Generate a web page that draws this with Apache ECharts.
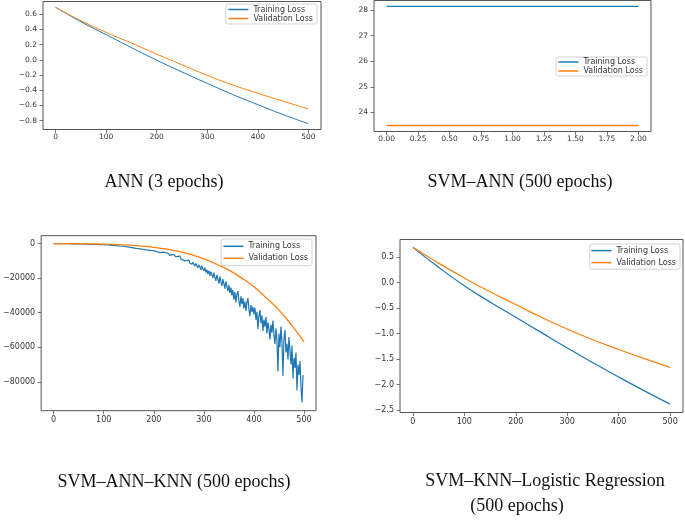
<!DOCTYPE html>
<html>
<head>
<meta charset="utf-8">
<script src="https://cdn.jsdelivr.net/npm/echarts@6/dist/echarts.min.js"></script>
<style>
html,body{margin:0;padding:0;background:#fff;}
#c{width:685px;height:524px;}
</style>
</head>
<body>
<div id="c"></div>
<script>
// ---------- Panel 1: ANN ----------
const annEpochs = [0, 50, 100, 150, 200, 250, 300, 350, 400, 450, 500];
const annTrain = [0.69, 0.50, 0.33, 0.16, -0.005, -0.16, -0.31, -0.455, -0.59, -0.72, -0.84];
const annVal = [0.69, 0.515, 0.36, 0.22, 0.075, -0.065, -0.205, -0.33, -0.44, -0.545, -0.645];
const annXTicks = [0, 100, 200, 300, 400, 500];
const annYTicks = [-0.8, -0.6, -0.4, -0.2, 0.0, 0.2, 0.4, 0.6];

// ---------- Panel 2: SVM-ANN ----------
const svmAnnEpochs = [0, 1, 2];
const svmAnnTrain = [28.14, 28.14, 28.14];
const svmAnnVal = [23.49, 23.49, 23.49];
const svmAnnXTicks = [0, 0.25, 0.5, 0.75, 1.0, 1.25, 1.5, 1.75, 2.0];
const svmAnnYTicks = [24, 25, 26, 27, 28];

// ---------- Panel 3: SVM-ANN-KNN ----------
const sakTrainStep = 2; // one value every 2 epochs, starting at epoch 0
const sakTrain = [
  0,0,0,-10,-10,-10,-20,-20,-20,-30,-30,-40,-40,-50,-50,-60,-60,-70,-80,-80,-90,
  -100,-110,-120,-130,-140,-150,-160,-170,-190,-200,-220,-230,-250,-270,-290,-300,-320,-340,-360,-390,-410,-430,-460,-480,-510,-540,-560,-590,-620,
  -650,-680,-720,-750,-790,-830,-870,-900,-950,-990,-1030,-1100,-1120,-1200,-1230,-1300,-1380,-1350,-1500,-1550,-1520,-1700,-1750,-1680,-1900,
  -2000,-2100,-1900,-2300,-2200,-2500,-2350,-2700,-2400,-2800,-2600,-3000,-2750,-3200,-2900,-3300,-3100,-3600,-3200,-3700,-3400,-3900,-3500,-4100,-3800,
  -4000,-3600,-4500,-4100,-4800,-4300,-5200,-4600,-5000,-5600,-4900,-5800,-5300,-6200,-5500,-6000,-6800,-5900,-6500,-7200,-6300,-7000,-7600,-6700,-7400,
  -8000,-7200,-8800,-7800,-9400,-8500,-10000,-8900,-9800,-10800,-9500,-11200,-10400,-12000,-10800,-11600,-13000,-11500,-12400,-14000,-12200,-13500,-15200,-12800,-14500,
  -15800,-13900,-16800,-15000,-17500,-15600,-18600,-16200,-17800,-20000,-16800,-19400,-21500,-18000,-20600,-23200,-19000,-22000,-24500,-20500,-23000,-26000,-21800,-24800,-27500,
  -24000,-28500,-25500,-30000,-26800,-32500,-28000,-34000,-29500,-27500,-33000,-36500,-30500,-35000,-31500,-37500,-33500,-39000,-34000,-31500,-38000,-42000,-35500,-39500,-36500,
  -41000,-37000,-44000,-39500,-49500,-42000,-38500,-46000,-41500,-50500,-44000,-48000,-42500,-52000,-45500,-49000,-55500,-47000,-51500,-44500,-53000,-58000,-49000,-56000,-74000,
  -52000,-60000,-48000,-57000,-76500,-55000,-50000,-63000,-58000,-67000,-54000,-62000,-70000,-59000,-78000,-66000,-72000,-63000,-85000,-70000,-76000,-68000,-83000,-92000,-76000
];
const sakValEpochs = [0,25,50,75,100,125,150,175,200,225,250,275,300,325,350,375,400,425,450,475,500];
const sakVal = [0,-20,-60,-140,-300,-550,-900,-1380,-2100,-3100,-4500,-6400,-8800,-11800,-15300,-19800,-25000,-31400,-38500,-47000,-56750];
const sakXTicks = [0, 100, 200, 300, 400, 500];
const sakYTicks = [-80000, -60000, -40000, -20000, 0];

// ---------- Panel 4: SVM-KNN-Logistic Regression ----------
const sklEpochs = [0, 50, 100, 150, 200, 250, 300, 350, 400, 450, 500];
const sklTrain = [0.69, 0.30, -0.06, -0.38, -0.68, -0.98, -1.28, -1.57, -1.85, -2.12, -2.38];
const sklVal = [0.69, 0.38, 0.09, -0.18, -0.43, -0.68, -0.91, -1.12, -1.31, -1.49, -1.66];
const sklXTicks = [0, 100, 200, 300, 400, 500];
const sklYTicks = [-2.5, -2.0, -1.5, -1.0, -0.5, 0.0, 0.5];

const captions = [
  {text: 'ANN (3 epochs)', x: 164, y: 182},
  {text: 'SVM\u2013ANN (500 epochs)', x: 520, y: 182},
  {text: 'SVM\u2013ANN\u2013KNN (500 epochs)', x: 174, y: 482},
  {text: 'SVM\u2013KNN\u2013Logistic Regression', x: 545, y: 481},
  {text: '(500 epochs)', x: 517, y: 506}
];

const BLUE = '#1f77b4', ORANGE = '#ff7f0e';
const SPINE = '#555';

function fmt(d) {
  return v => {
    if (Math.abs(v) < 1e-9) v = 0;
    return v.toFixed(d).replace('-', '\u2212');
  };
}
function axis(min, max, ticks, dec, fs, margin) {
  return {
    type: 'value', min: min, max: max,
    axisLine: {show: false, onZero: false},
    splitLine: {show: false},
    axisTick: {show: true, inside: false, customValues: ticks, length: 3.5, lineStyle: {color: SPINE, width: 0.8}},
    axisLabel: {show: true, customValues: ticks, formatter: fmt(dec), fontFamily: 'DejaVu Sans', fontSize: fs, color: '#333', margin: margin}
  };
}
function pairs(xs, ys) { return ys.map((y, i) => [xs[i], y]); }

const chart = echarts.init(document.getElementById('c'), null, {renderer: 'canvas'});

const grids = [
  {left: 43, top: 1.5, width: 278, height: 128},
  {left: 374, top: 0.5, width: 277, height: 131},
  {left: 39, top: 235.7, width: 277, height: 175},
  {left: 400, top: 239.5, width: 283, height: 173}
].map(g => Object.assign({show: true, borderColor: SPINE, borderWidth: 1, backgroundColor: 'transparent', containLabel: false}, g));

function legend(right, top, gap, pad) {
  return {
    data: ['Training Loss', 'Validation Loss'],
    orient: 'vertical', right: right, top: top,
    icon: 'rect', itemWidth: 20, itemHeight: 1.5, itemGap: gap,
    padding: pad, borderColor: '#d3d3d3', borderWidth: 1, borderRadius: 2,
    backgroundColor: '#fff', selectedMode: false,
    textStyle: {fontFamily: 'DejaVu Sans', fontSize: 8, color: '#333'}
  };
}

function line(name, xi, data, color, width, smooth) {
  return {
    type: 'line', name: name, xAxisIndex: xi, yAxisIndex: xi, data: data,
    showSymbol: false, symbol: 'none', smooth: smooth,
    lineStyle: {color: color, width: width}, itemStyle: {color: color},
    emphasis: {disabled: true}
  };
}

const option = {
  animation: false,
  backgroundColor: '#fff',
  grid: grids,
  xAxis: [
    Object.assign(axis(-25, 525, annXTicks, 0, 7.5, 4), {gridIndex: 0, position: 'bottom'}),
    Object.assign(axis(-0.1, 2.1, svmAnnXTicks, 2, 7.5, 4), {gridIndex: 1, position: 'bottom'}),
    Object.assign(axis(-25, 524, sakXTicks, 0, 8, 5), {gridIndex: 2, position: 'bottom'}),
    Object.assign(axis(-25, 525, sklXTicks, 0, 8, 5), {gridIndex: 3, position: 'bottom'})
  ],
  yAxis: [
    Object.assign(axis(-0.9165, 0.7665, annYTicks, 1, 7.5, 6), {gridIndex: 0, position: 'left'}),
    Object.assign(axis(23.26, 28.37, svmAnnYTicks, 0, 7.5, 6), {gridIndex: 1, position: 'left'}),
    Object.assign(axis(-96700, 4600, sakYTicks, 0, 8, 6), {gridIndex: 2, position: 'left'}),
    Object.assign(axis(-2.544, 0.844, sklYTicks, 1, 8, 6), {gridIndex: 3, position: 'left'})
  ],
  legend: [
    legend(368, 4, 1, [1.5, 4, 1.5, 2.7]),
    legend(38, 57, 1, [1, 4, 1, 2.3]),
    legend(373, 239, 4, [3.3, 4, 3.3, 2.3]),
    legend(5, 244, 4, [2.6, 4, 2.6, 1.6])
  ],
  series: [
    line('Training Loss', 0, pairs(annEpochs, annTrain), BLUE, 1, 0.5),
    line('Validation Loss', 0, pairs(annEpochs, annVal), ORANGE, 1, 0.5),
    line('Training Loss', 1, pairs(svmAnnEpochs, svmAnnTrain), BLUE, 1.1, false),
    line('Validation Loss', 1, pairs(svmAnnEpochs, svmAnnVal), ORANGE, 1.5, false),
    line('Training Loss', 2, sakTrain.map((v, i) => [i * sakTrainStep, v]), BLUE, 1.2, false),
    line('Validation Loss', 2, pairs(sakValEpochs, sakVal), ORANGE, 1.3, 0.5),
    line('Training Loss', 3, pairs(sklEpochs, sklTrain), BLUE, 1.2, 0.5),
    line('Validation Loss', 3, pairs(sklEpochs, sklVal), ORANGE, 1.2, 0.5)
  ],
  graphic: captions.map(c => ({
    type: 'text', x: c.x, y: c.y, silent: true,
    style: {text: c.text, font: '18px "Liberation Serif", "Times New Roman", serif', fill: '#111', align: 'center', verticalAlign: 'middle'}
  }))
};
chart.setOption(option);
</script>
</body>
</html>
